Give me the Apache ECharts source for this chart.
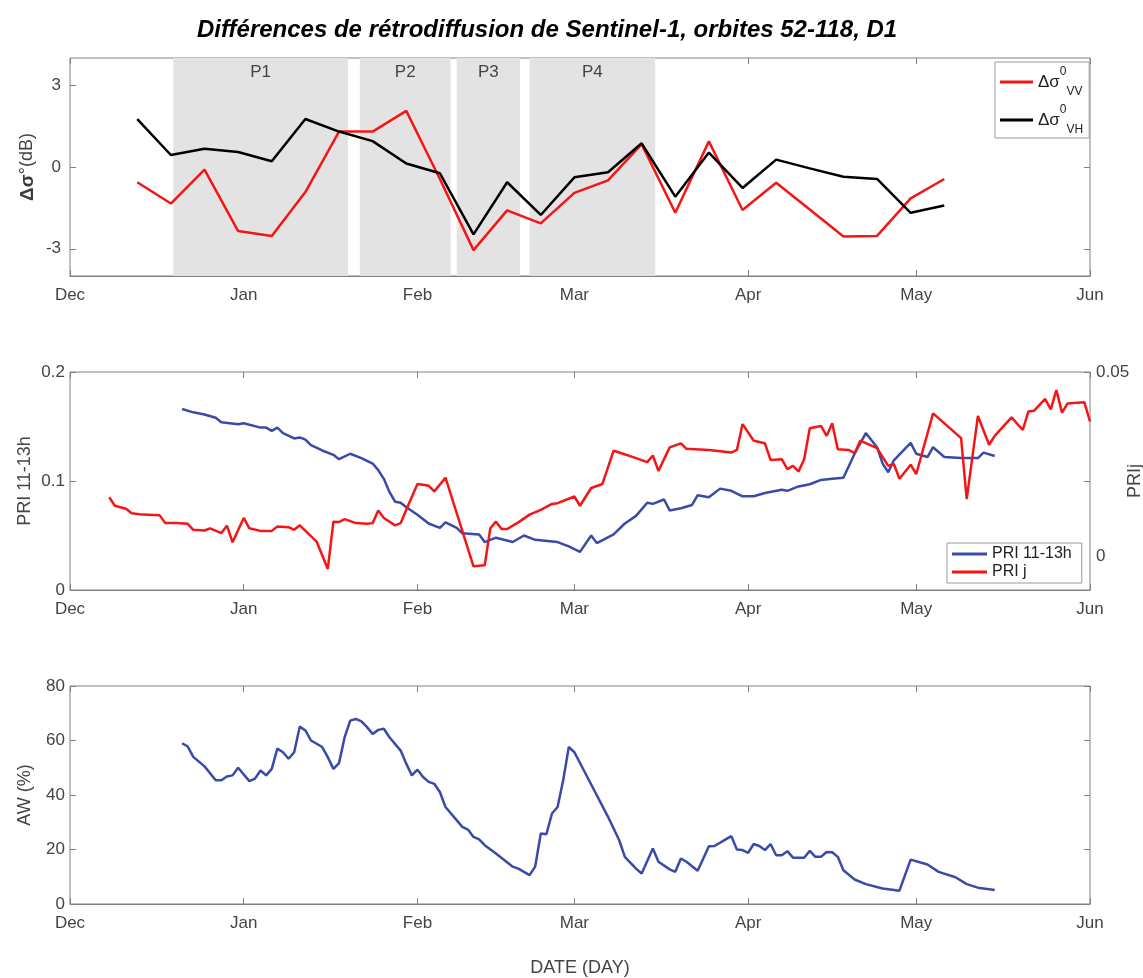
<!DOCTYPE html>
<html><head><meta charset="utf-8">
<script src="https://cdn.jsdelivr.net/npm/echarts@6/dist/echarts.min.js"></script>
<style>html,body{margin:0;padding:0;background:#fff}#c{width:1143px;height:978px}</style>
</head><body><div id="c"></div>
<script>
// ---------- data ----------
const monthTicks = ['2017-12-01','2018-01-01','2018-02-01','2018-03-01','2018-04-01','2018-05-01','2018-06-01'];
const monthLabels = ['Dec','Jan','Feb','Mar','Apr','May','Jun'];

const titleText = 'Différences de rétrodiffusion de Sentinel-1, orbites 52-118, D1';

// Sentinel-1 backscatter differences (dB)
const s1Dates = ['2017-12-13','2017-12-19','2017-12-25','2017-12-31','2018-01-06','2018-01-12','2018-01-18','2018-01-24','2018-01-30','2018-02-05','2018-02-11','2018-02-17','2018-02-23','2018-03-01','2018-03-07','2018-03-13','2018-03-19','2018-03-25','2018-03-31','2018-04-06','2018-04-12','2018-04-18','2018-04-24','2018-04-30','2018-05-06'];
const vvValues = [-0.56,-1.34,-0.10,-2.35,-2.53,-0.92,1.30,1.30,2.06,-0.44,-3.05,-1.59,-2.07,-0.95,-0.49,0.84,-1.68,0.94,-1.58,-0.58,-1.56,-2.55,-2.53,-1.15,-0.44];
const vhValues = [1.76,0.44,0.67,0.55,0.21,1.76,1.30,0.95,0.13,-0.23,-2.47,-0.56,-1.76,-0.38,-0.19,0.87,-1.09,0.53,-0.77,0.27,-0.05,-0.36,-0.44,-1.68,-1.41];

// shaded periods
const periodNames = ['P1','P2','P3','P4'];
const periodStart = ['2017-12-19 10:00','2018-01-21 17:00','2018-02-08 00:00','2018-02-21 00:00'];
const periodEnd   = ['2018-01-19 14:00','2018-02-06 22:00','2018-02-19 07:00','2018-03-15 10:00'];

// PRI 11-13h (left axis)
const priDates = ['2017-12-21','2017-12-23','2017-12-25','2017-12-27','2017-12-28','2017-12-31','2018-01-01','2018-01-04','2018-01-05','2018-01-06','2018-01-07','2018-01-08','2018-01-10','2018-01-11','2018-01-12','2018-01-13','2018-01-15','2018-01-17','2018-01-18','2018-01-20','2018-01-22','2018-01-24','2018-01-25','2018-01-26','2018-01-27','2018-01-28','2018-01-29','2018-01-30','2018-02-01','2018-02-03','2018-02-05','2018-02-06','2018-02-08','2018-02-09','2018-02-12','2018-02-13','2018-02-15','2018-02-18','2018-02-20','2018-02-22','2018-02-26','2018-02-28','2018-03-02','2018-03-04','2018-03-05','2018-03-08','2018-03-10','2018-03-12','2018-03-14','2018-03-15','2018-03-17','2018-03-18','2018-03-20','2018-03-22','2018-03-23','2018-03-25','2018-03-27','2018-03-29','2018-03-31','2018-04-02','2018-04-04','2018-04-07','2018-04-08','2018-04-10','2018-04-12','2018-04-14','2018-04-16','2018-04-18','2018-04-20','2018-04-22','2018-04-24','2018-04-25','2018-04-26','2018-04-27','2018-04-30','2018-05-01','2018-05-03','2018-05-04','2018-05-06','2018-05-09','2018-05-12','2018-05-13','2018-05-15'];
const priValues = [0.166,0.163,0.161,0.158,0.154,0.152,0.153,0.149,0.149,0.146,0.149,0.144,0.139,0.140,0.138,0.133,0.128,0.124,0.120,0.125,0.121,0.116,0.110,0.102,0.090,0.081,0.080,0.076,0.069,0.061,0.057,0.062,0.057,0.052,0.051,0.044,0.048,0.044,0.050,0.046,0.044,0.040,0.035,0.050,0.043,0.051,0.061,0.068,0.080,0.079,0.083,0.073,0.075,0.078,0.087,0.085,0.093,0.091,0.086,0.086,0.089,0.092,0.091,0.095,0.097,0.101,0.102,0.103,0.125,0.144,0.131,0.116,0.108,0.119,0.135,0.125,0.122,0.131,0.122,0.121,0.121,0.126,0.123];

// PRI j (right axis)
const prijDates = ['2017-12-08','2017-12-09','2017-12-11','2017-12-12','2017-12-14','2017-12-17','2017-12-18','2017-12-20','2017-12-22','2017-12-23','2017-12-25','2017-12-26','2017-12-28','2017-12-29','2017-12-30','2018-01-01','2018-01-02','2018-01-04','2018-01-06','2018-01-07','2018-01-09','2018-01-10','2018-01-11','2018-01-14','2018-01-16','2018-01-17','2018-01-18','2018-01-19','2018-01-21','2018-01-23','2018-01-24','2018-01-25','2018-01-26','2018-01-28','2018-01-29','2018-01-30','2018-02-01','2018-02-02','2018-02-03','2018-02-04','2018-02-06','2018-02-11','2018-02-13','2018-02-14','2018-02-15','2018-02-16','2018-02-17','2018-02-19','2018-02-21','2018-02-23','2018-02-25','2018-02-26','2018-03-01','2018-03-02','2018-03-04','2018-03-06','2018-03-08','2018-03-09','2018-03-12','2018-03-14','2018-03-15','2018-03-16','2018-03-18','2018-03-20','2018-03-21','2018-03-25','2018-03-29','2018-03-30','2018-03-31','2018-04-02','2018-04-04','2018-04-05','2018-04-07','2018-04-08','2018-04-09','2018-04-10','2018-04-11','2018-04-12','2018-04-14','2018-04-15','2018-04-16','2018-04-17','2018-04-19','2018-04-20','2018-04-21','2018-04-24','2018-04-26','2018-04-27','2018-04-28','2018-04-30','2018-05-01','2018-05-04','2018-05-09','2018-05-10','2018-05-12','2018-05-14','2018-05-15','2018-05-18','2018-05-20','2018-05-21','2018-05-22','2018-05-24','2018-05-25','2018-05-26','2018-05-27','2018-05-28','2018-05-31','2018-06-01'];
const prijValues = [0.0161,0.0138,0.0130,0.0118,0.0114,0.0112,0.0091,0.0091,0.0089,0.0073,0.0071,0.0077,0.0064,0.0084,0.0039,0.0105,0.0077,0.0070,0.0070,0.0082,0.0080,0.0073,0.0085,0.0041,-0.0033,0.0095,0.0094,0.0102,0.0091,0.0089,0.0091,0.0125,0.0105,0.0085,0.0091,0.0127,0.0197,0.0195,0.0192,0.0177,0.0214,-0.0026,-0.0023,0.0077,0.0095,0.0075,0.0075,0.0093,0.0114,0.0127,0.0143,0.0145,0.0163,0.0138,0.0186,0.0197,0.0287,0.0282,0.0267,0.0256,0.0274,0.0232,0.0296,0.0307,0.0292,0.0289,0.0282,0.0289,0.0359,0.0314,0.0307,0.0262,0.0264,0.0237,0.0246,0.0231,0.0264,0.0348,0.0354,0.0327,0.0361,0.0291,0.0289,0.0280,0.0314,0.0294,0.0246,0.0251,0.0211,0.0249,0.0224,0.0388,0.0321,0.0156,0.0381,0.0303,0.0327,0.0377,0.0343,0.0393,0.0395,0.0427,0.0399,0.0451,0.0390,0.0415,0.0418,0.0366];

// AW (%)
const awDates = ['2017-12-21','2017-12-22','2017-12-23','2017-12-25','2017-12-26','2017-12-27','2017-12-28','2017-12-29','2017-12-30','2017-12-31','2018-01-02','2018-01-03','2018-01-04','2018-01-05','2018-01-06','2018-01-07','2018-01-08','2018-01-09','2018-01-10','2018-01-11','2018-01-12','2018-01-13','2018-01-15','2018-01-16','2018-01-17','2018-01-18','2018-01-19','2018-01-20','2018-01-21','2018-01-22','2018-01-23','2018-01-24','2018-01-25','2018-01-26','2018-01-27','2018-01-29','2018-01-30','2018-01-31','2018-02-01','2018-02-02','2018-02-03','2018-02-04','2018-02-05','2018-02-06','2018-02-09','2018-02-10','2018-02-11','2018-02-12','2018-02-13','2018-02-15','2018-02-18','2018-02-19','2018-02-21','2018-02-22','2018-02-23','2018-02-24','2018-02-25','2018-02-26','2018-02-27','2018-02-28','2018-03-01','2018-03-03','2018-03-05','2018-03-07','2018-03-09','2018-03-10','2018-03-12','2018-03-13','2018-03-15','2018-03-16','2018-03-18','2018-03-19','2018-03-20','2018-03-21','2018-03-23','2018-03-25','2018-03-26','2018-03-28','2018-03-29','2018-03-30','2018-03-31','2018-04-01','2018-04-02','2018-04-03','2018-04-04','2018-04-05','2018-04-06','2018-04-07','2018-04-08','2018-04-09','2018-04-11','2018-04-12','2018-04-13','2018-04-14','2018-04-15','2018-04-16','2018-04-17','2018-04-18','2018-04-20','2018-04-22','2018-04-25','2018-04-28','2018-04-30','2018-05-03','2018-05-05','2018-05-08','2018-05-10','2018-05-12','2018-05-15'];
const awValues = [59.0,57.8,54.0,50.5,48.0,45.4,45.4,46.8,47.2,50.0,45.1,46.0,49.0,47.2,49.6,57.0,55.7,53.3,55.7,65.1,63.7,60.0,57.6,53.9,49.6,51.7,61.2,67.3,67.9,67.0,64.9,62.4,63.9,64.3,61.2,56.3,51.5,47.2,49.3,46.6,44.8,44.1,41.1,35.6,28.3,27.3,24.6,23.7,21.6,18.5,13.7,13.0,10.6,13.7,25.9,25.6,33.2,35.6,45.4,57.6,55.7,47.8,39.9,32.0,23.4,17.3,13.0,11.2,20.4,15.5,12.7,11.8,16.7,15.5,12.2,21.2,21.3,23.7,24.9,20.0,19.8,18.8,22.0,21.3,19.8,22.0,17.9,17.9,19.4,17.0,17.0,19.5,17.3,17.3,19.1,19.0,17.3,12.4,9.0,7.3,5.7,4.9,16.3,14.5,11.8,9.8,7.3,6.0,5.1];

// ---------- helpers (date -> days since first month tick, used as x value) ----------
function ts(s){ const p = s.split(/[- :]/).map(Number); return Date.UTC(p[0], p[1]-1, p[2], p[3]||0, p[4]||0); }
const T0 = ts(monthTicks[0]);
function day(s){ return (ts(s) - T0) / 86400000; }
function pairs(d, v){ return d.map((x,i)=>[day(x), v[i]]); }
const tickDays = monthTicks.map(day);
const xMin = tickDays[0], xMax = tickDays[tickDays.length-1];
const monthFmt = v => { const i = tickDays.indexOf(v); return i >= 0 ? monthLabels[i] : ''; };

const FONT = 'Liberation Sans, Arial, sans-serif';
const TXT = '#444444';
const AX = '#808080';
const RED = '#f51515', BLUE = '#3a4aa8', BLACK = '#000000';

const gridTops = [58, 372, 686];
const GH = 218;

function bottomX(g, extra){
  return Object.assign({
    type:'value', gridIndex:g, min:xMin, max:xMax, position:'bottom',
    axisLine:{show:true, onZero:false, lineStyle:{color:AX}},
    axisTick:{show:true, inside:true, length:6, customValues:tickDays, lineStyle:{color:AX}},
    axisLabel:{show:true, customValues:tickDays, formatter:monthFmt, color:TXT, fontSize:17, fontFamily:FONT, margin:11},
    splitLine:{show:false}
  }, extra||{});
}
function topX(g){
  return {type:'value', gridIndex:g, min:xMin, max:xMax, position:'top',
    axisLine:{show:false, onZero:false}, axisLabel:{show:false}, splitLine:{show:false},
    axisTick:{show:true, inside:true, length:6, customValues:tickDays, lineStyle:{color:AX}}};
}
function mirrorY(g, min, max, ticks){
  return {type:'value', gridIndex:g, position:'right', min, max,
    axisLine:{show:false, onZero:false}, axisLabel:{show:false}, splitLine:{show:false},
    axisTick:{show:true, inside:true, length:6, customValues:ticks, lineStyle:{color:AX}}};
}

const option = {
  animation:false,
  backgroundColor:'#ffffff',
  textStyle:{fontFamily:FONT},
  title:{text:titleText, left:192, top:13, textStyle:{fontFamily:FONT, fontSize:24, fontWeight:'bold', fontStyle:'italic', color:'#000'}},
  grid: gridTops.map(t => ({left:70, width:1020, top:t, height:GH, show:true, borderColor:AX, borderWidth:1, backgroundColor:'transparent', outerBoundsMode:'none', containLabel:false})),
  legend:[
    {data:['VV','VH'], orient:'vertical', left:995, top:62, padding:[4,6,2,5], itemGap:6,
     backgroundColor:'#fff', borderColor:'#999', borderWidth:1, borderRadius:0,
     icon:'rect', itemWidth:33, itemHeight:3,
     formatter: n => '{a|Δσ}{s|0}{b|' + n + '}',
     textStyle:{color:'#222', fontFamily:FONT, rich:{
       a:{fontSize:17, lineHeight:32, verticalAlign:'middle', color:'#222'},
       s:{fontSize:12, verticalAlign:'top', color:'#222', lineHeight:32},
       b:{fontSize:12, verticalAlign:'bottom', color:'#222', lineHeight:26}
     }}},
    {data:['PRI 11-13h','PRI j'], orient:'vertical', left:947, top:543, padding:[3,10,3,5], itemGap:2,
     backgroundColor:'#fff', borderColor:'#999', borderWidth:1, borderRadius:0,
     icon:'rect', itemWidth:35, itemHeight:3,
     textStyle:{color:'#222', fontFamily:FONT, fontSize:16}}
  ],
  xAxis:[
    bottomX(0), bottomX(1),
    bottomX(2, {name:'DATE (DAY)', nameLocation:'middle', nameGap:55, nameMoveOverlap:false, nameTextStyle:{color:TXT, fontSize:18, fontFamily:FONT}}),
    topX(0), topX(1), topX(2)
  ],
  yAxis:[
    {type:'value', gridIndex:0, min:-4, max:4, position:'left',
     axisLine:{show:false, onZero:false}, splitLine:{show:false},
     axisTick:{show:true, inside:true, length:6, customValues:[-3,0,3], lineStyle:{color:AX}},
     axisLabel:{customValues:[-3,0,3], color:TXT, fontSize:17, fontFamily:FONT, margin:9},
     name:'{b|Δσ}{s|°}{n|(dB)}', nameLocation:'middle', nameGap:33, nameRotate:90, nameMoveOverlap:false,
     nameTextStyle:{color:TXT, fontFamily:FONT, rich:{
       b:{fontSize:19, fontWeight:'bold', color:'#3a3a3a'},
       s:{fontSize:18, color:'#3a3a3a'},
       n:{fontSize:18, color:TXT}
     }}},
    {type:'value', gridIndex:1, min:0, max:0.2, interval:0.1, position:'left',
     axisLine:{show:false, onZero:false}, splitLine:{show:false},
     axisTick:{show:true, inside:true, length:6, lineStyle:{color:AX}},
     axisLabel:{color:TXT, fontSize:17, fontFamily:FONT, margin:5},
     name:'PRI 11-13h', nameLocation:'middle', nameGap:36, nameRotate:90, nameMoveOverlap:false,
     nameTextStyle:{color:TXT, fontSize:18, fontFamily:FONT}},
    {type:'value', gridIndex:1, min:-0.009, max:0.05, position:'right',
     axisLine:{show:false, onZero:false}, splitLine:{show:false},
     axisTick:{show:false},
     axisLabel:{customValues:[0,0.05], color:TXT, fontSize:17, fontFamily:FONT, margin:6},
     name:'PRIj', nameLocation:'middle', nameGap:36, nameRotate:90, nameMoveOverlap:false,
     nameTextStyle:{color:TXT, fontSize:18, fontFamily:FONT}},
    {type:'value', gridIndex:2, min:0, max:80, interval:20, position:'left',
     axisLine:{show:false, onZero:false}, splitLine:{show:false},
     axisTick:{show:true, inside:true, length:6, lineStyle:{color:AX}},
     axisLabel:{color:TXT, fontSize:17, fontFamily:FONT, margin:5},
     name:'AW (%)', nameLocation:'middle', nameGap:36, nameRotate:90, nameMoveOverlap:false,
     nameTextStyle:{color:TXT, fontSize:18, fontFamily:FONT}},
    mirrorY(0, -4, 4, [-3,0,3]),
    mirrorY(1, 0, 0.2, [0,0.1,0.2]),
    mirrorY(2, 0, 80, [0,20,40,60,80])
  ],
  series:[
    {name:'VV', type:'line', xAxisIndex:0, yAxisIndex:0, data:pairs(s1Dates, vvValues),
     showSymbol:false, symbol:'none', lineStyle:{color:RED, width:2.5}, itemStyle:{color:RED}, z:3,
     markArea:{silent:true, itemStyle:{color:'#e3e3e3'},
       label:{show:true, position:'insideTop', distance:6, color:'#444', fontSize:17, fontFamily:FONT},
       data: periodNames.map((n,i)=>[{name:n, xAxis:day(periodStart[i])},{xAxis:day(periodEnd[i])}])}},
    {name:'VH', type:'line', xAxisIndex:0, yAxisIndex:0, data:pairs(s1Dates, vhValues),
     showSymbol:false, symbol:'none', lineStyle:{color:BLACK, width:2.5}, itemStyle:{color:BLACK}, z:4},
    {name:'PRI 11-13h', type:'line', xAxisIndex:1, yAxisIndex:1, data:pairs(priDates, priValues),
     showSymbol:false, symbol:'none', lineStyle:{color:BLUE, width:2.5}, itemStyle:{color:BLUE}, z:3},
    {name:'PRI j', type:'line', xAxisIndex:1, yAxisIndex:2, data:pairs(prijDates, prijValues),
     showSymbol:false, symbol:'none', lineStyle:{color:RED, width:2.5}, itemStyle:{color:RED}, z:4},
    {name:'AW', type:'line', xAxisIndex:2, yAxisIndex:3, data:pairs(awDates, awValues),
     showSymbol:false, symbol:'none', lineStyle:{color:BLUE, width:2.5}, itemStyle:{color:BLUE}, z:3}
  ]
};
const chart = echarts.init(document.getElementById('c'));
chart.setOption(option);
</script>
</body></html>
